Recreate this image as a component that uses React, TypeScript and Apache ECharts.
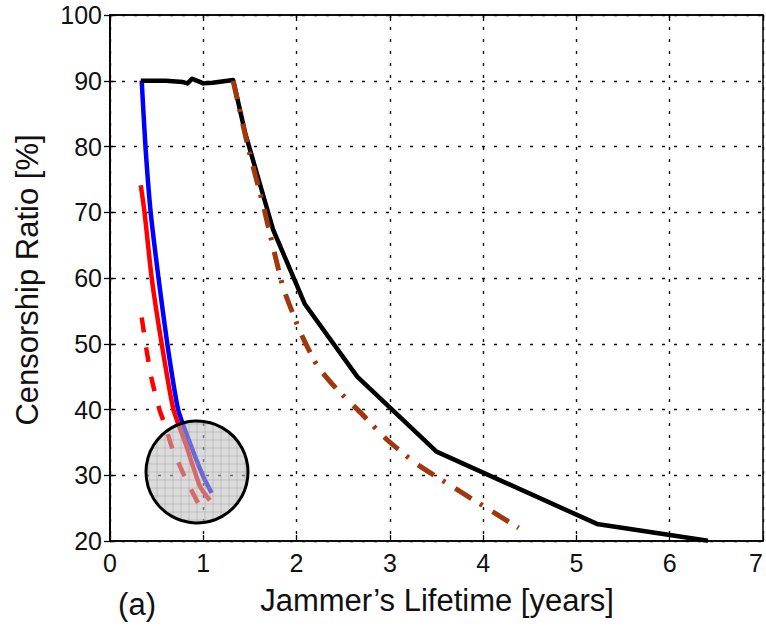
import React, { useEffect, useRef } from "react";
import * as echarts from "echarts";

// ---- data ----
const xTicks = [0, 1, 2, 3, 4, 5, 6, 7];
const yTicks = [20, 30, 40, 50, 60, 70, 80, 90, 100];

const blackX = [0.33, 0.6, 0.78, 0.83, 0.88, 0.95, 1.0, 1.1, 1.2, 1.32, 1.45, 1.75, 2.09, 2.65, 3.5, 5.22, 6.41];
const blackY = [90, 90, 89.8, 89.6, 90.3, 89.9, 89.6, 89.7, 89.9, 90.1, 82, 67.3, 56, 45, 33.6, 22.6, 20.05];

const brownX = [1.32, 1.48, 1.64, 1.75, 1.86, 2.04, 2.22, 2.43, 2.68, 2.97, 3.3, 3.7, 4.04, 4.38];
const brownY = [90, 79.9, 71.2, 64.6, 58.4, 51.8, 46.7, 43.1, 39.6, 35.4, 31.6, 28.0, 25.0, 22.0];

const blueX = [0.34, 0.38, 0.436, 0.52, 0.614, 0.73, 0.857, 1.0, 1.09];
const blueY = [90, 80, 70, 60, 50, 40, 34.9, 29.8, 27.3];

const redX = [0.33, 0.37, 0.447, 0.554, 0.68, 0.82, 0.965, 1.07];
const redY = [74.1, 70, 60, 50, 40, 34.4, 28.3, 26.2];

const redDashX = [0.34, 0.39, 0.447, 0.53, 0.6, 0.66, 0.8, 0.965, 0.99];
const redDashY = [54, 49.2, 44.6, 40, 37.2, 34.4, 29.8, 25.2, 24.7];

const xTitle = "Jammer\u2019s Lifetime [years]";
const yTitle = "Censorship Ratio [%]";
const panelLabel = "(a)";

const zip = (xs: number[], ys: number[]) => xs.map((x, i) => [x, ys[i]]);

const FONT = "'Liberation Sans', Arial, Helvetica, sans-serif";

// magnifier circle (annotation) position in pixels
const CX = 197;
const CY = 472;
const CR = 51;

function hatchLines() {
  const out: any[] = [];
  for (let d = -48; d <= 48; d += 8) {
    const h = Math.sqrt(CR * CR - d * d) - 1;
    out.push({
      type: "line",
      shape: { x1: CX - h, y1: CY + d, x2: CX + h, y2: CY + d },
      style: { stroke: "rgba(140,140,140,0.35)", lineWidth: 1 },
      z: 101,
    });
    out.push({
      type: "line",
      shape: { x1: CX + d, y1: CY - h, x2: CX + d, y2: CY + h },
      style: { stroke: "rgba(140,140,140,0.35)", lineWidth: 1 },
      z: 101,
    });
  }
  return out;
}

export default function App() {
  const ref = useRef<HTMLDivElement>(null);

  useEffect(() => {
    document.body.style.margin = "0";
    if (!ref.current) return;
    const chart = echarts.init(ref.current, null, { renderer: "svg" });

    const gridLine = { show: true, lineStyle: { color: "#111", type: [3, 9] as any, width: 1.4 } };
    const tickStyle = { show: true, inside: true, length: 6, lineStyle: { color: "#000", width: 1.3 } };

    chart.setOption({
      animation: false,
      backgroundColor: "#fff",
      grid: {
        left: 110,
        right: 3,
        top: 15,
        bottom: 85,
        containLabel: false,
        outerBoundsMode: "none",
        show: true,
        borderColor: "#000",
        borderWidth: 1.5,
        backgroundColor: "transparent",
      },
      xAxis: [
        {
          type: "value",
          min: xTicks[0],
          max: xTicks[xTicks.length - 1],
          interval: 1,
          axisLine: { show: true, lineStyle: { color: "#000", width: 1.5 } },
          axisTick: tickStyle,
          splitLine: gridLine,
          axisLabel: {
            color: "#111",
            fontSize: 25,
            fontFamily: FONT,
            margin: 9,
            alignMaxLabel: "right",
          },
        },
        {
          type: "value",
          position: "top",
          min: xTicks[0],
          max: xTicks[xTicks.length - 1],
          interval: 1,
          axisLine: { show: true, lineStyle: { color: "#000", width: 1.5 } },
          axisTick: tickStyle,
          splitLine: { show: false },
          axisLabel: { show: false },
        },
      ],
      yAxis: [
        {
          type: "value",
          min: yTicks[0],
          max: yTicks[yTicks.length - 1],
          interval: 10,
          axisLine: { show: true, lineStyle: { color: "#000", width: 1.5 } },
          axisTick: tickStyle,
          splitLine: gridLine,
          axisLabel: { color: "#111", fontSize: 25, fontFamily: FONT, margin: 8 },
        },
        {
          type: "value",
          position: "right",
          min: yTicks[0],
          max: yTicks[yTicks.length - 1],
          interval: 10,
          axisLine: { show: true, lineStyle: { color: "#000", width: 1.5 } },
          axisTick: tickStyle,
          splitLine: { show: false },
          axisLabel: { show: false },
        },
      ],
      series: [
        {
          type: "line",
          data: zip(blueX, blueY),
          showSymbol: false,
          smooth: 0.2,
          lineStyle: { color: "#0000ff", width: 4.5 },
          z: 3,
        },
        {
          type: "line",
          data: zip(redX, redY),
          showSymbol: false,
          smooth: 0.2,
          lineStyle: { color: "#ff0000", width: 4.5 },
          z: 4,
        },
        {
          type: "line",
          data: zip(redDashX, redDashY),
          showSymbol: false,
          smooth: 0.2,
          lineStyle: { color: "#ff0000", width: 4.5, type: [15, 15] },
          z: 4,
        },
        {
          type: "line",
          data: zip(blackX, blackY),
          showSymbol: false,
          smooth: false,
          lineStyle: { color: "#000", width: 4.5, join: "round" },
          z: 3,
        },
        {
          type: "line",
          data: zip(brownX, brownY),
          showSymbol: false,
          smooth: 0.2,
          lineStyle: { color: "#a0380c", width: 5, type: [19, 10, 3, 12] },
          z: 4,
        },
      ],
      graphic: [
        {
          type: "circle",
          shape: { cx: CX, cy: CY, r: CR },
          style: { fill: "rgba(190,190,190,0.55)", stroke: null },
          z: 100,
        },
        ...hatchLines(),
        {
          type: "circle",
          shape: { cx: CX, cy: CY, r: CR },
          style: { fill: null, stroke: "#000", lineWidth: 3 },
          z: 102,
        },
        {
          type: "text",
          x: 437,
          y: 600,
          style: {
            text: xTitle,
            fontSize: 31,
            fontFamily: FONT,
            fill: "#111",
            align: "center",
            verticalAlign: "middle",
          },
          z: 100,
        },
        {
          type: "text",
          x: 27,
          y: 280,
          rotation: Math.PI / 2,
          style: {
            text: yTitle,
            fontSize: 31,
            fontFamily: FONT,
            fill: "#111",
            align: "center",
            verticalAlign: "middle",
          },
          z: 100,
        },
        {
          type: "text",
          x: 137,
          y: 604,
          style: {
            text: panelLabel,
            fontSize: 31,
            fontFamily: FONT,
            fill: "#111",
            align: "center",
            verticalAlign: "middle",
          },
          z: 100,
        },
      ],
    });

    return () => chart.dispose();
  }, []);

  return <div ref={ref} style={{ width: 766, height: 626 }} />;
}
